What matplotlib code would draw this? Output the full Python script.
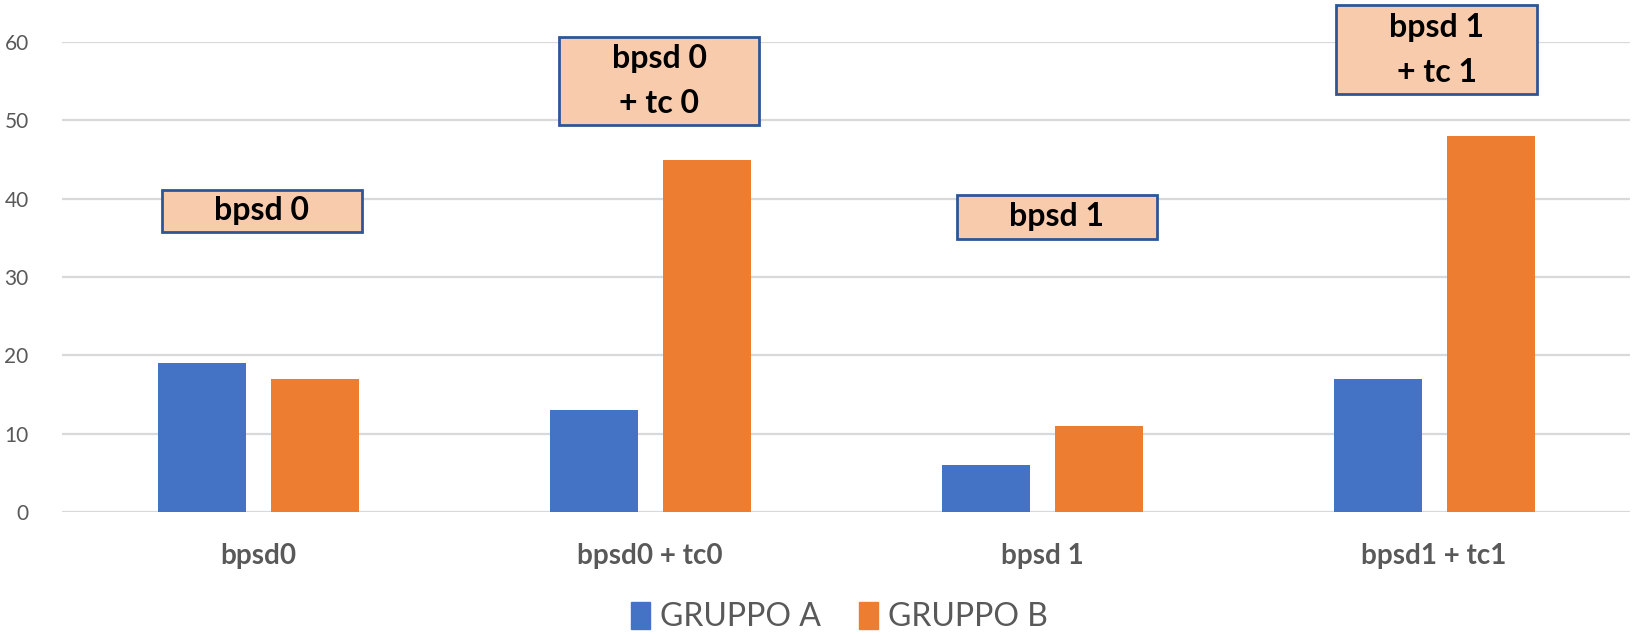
import matplotlib
matplotlib.use("Agg")
import matplotlib.pyplot as plt
from matplotlib.patches import Rectangle, Patch
import numpy as np

plt.rcParams['font.family'] = ['Lato', 'DejaVu Sans']

# dati
categories = ["bpsd0", "bpsd0 + tc0", "bpsd 1", "bpsd1 + tc1"]
gruppo_a = [19, 13, 6, 17]
gruppo_b = [17, 45, 11, 48]
series_names = ["GRUPPO A", "GRUPPO B"]
box_labels = ["bpsd 0", "bpsd 0\n+ tc 0", "bpsd 1", "bpsd 1\n+ tc 1"]

# riquadri (x0, y0, larghezza, altezza) in coordinate dati
box_layout = [(-0.246, 35.8, 0.511, 5.3),
              (0.769, 49.4, 0.509, 11.3),
              (1.783, 34.85, 0.510, 5.65),
              (2.750, 53.3, 0.513, 11.4)]

BLUE = "#4472C4"
ORANGE = "#ED7D31"
GRAY = "#595959"

fig = plt.figure(figsize=(16.46, 6.34), dpi=100)
ax = fig.add_axes([62 / 1646, 1 - 512 / 634, 1568 / 1646, 470 / 634])

x = np.arange(len(categories))
w = 0.225
ax.bar(x - 0.142, gruppo_a, w, color=BLUE, zorder=3)
ax.bar(x + 0.146, gruppo_b, w, color=ORANGE, zorder=3)

ax.set_xlim(-0.5, 3.5)
ax.set_ylim(0, 60)
ax.set_yticks(range(0, 61, 10))
ax.yaxis.grid(True, color="#D9D9D9", lw=1.6, zorder=0)
ax.set_axisbelow(True)
for s in ax.spines.values():
    s.set_visible(False)
ax.tick_params(axis="both", length=0)
ax.tick_params(axis="y", labelsize=15, labelcolor=GRAY, pad=24)
ax.set_xticks(x)
ax.set_xticklabels(categories, fontsize=20, fontweight="bold", color=GRAY)
ax.tick_params(axis="x", pad=22)

for (x0, y0, bw, bh), lab in zip(box_layout, box_labels):
    ax.add_patch(Rectangle((x0, y0), bw, bh, facecolor="#F8CBAD",
                           edgecolor="#2F5597", lw=2, zorder=5, clip_on=False))
    ax.text(x0 + bw / 2, y0 + bh / 2, lab, ha="center", va="center",
            fontsize=23, fontweight="bold", color="black", zorder=6,
            linespacing=1.65, clip_on=False)

handles = [Patch(color=BLUE), Patch(color=ORANGE)]
fig.legend(handles, series_names, loc="upper center",
           bbox_to_anchor=(0.51, 1 - 602 / 634), ncol=2, frameon=False,
           fontsize=23, labelcolor=GRAY, handlelength=0.6, handleheight=0.9,
           handletextpad=0.3, columnspacing=1.2, borderaxespad=0,
           borderpad=0)

fig.savefig("out.png", dpi=100)
